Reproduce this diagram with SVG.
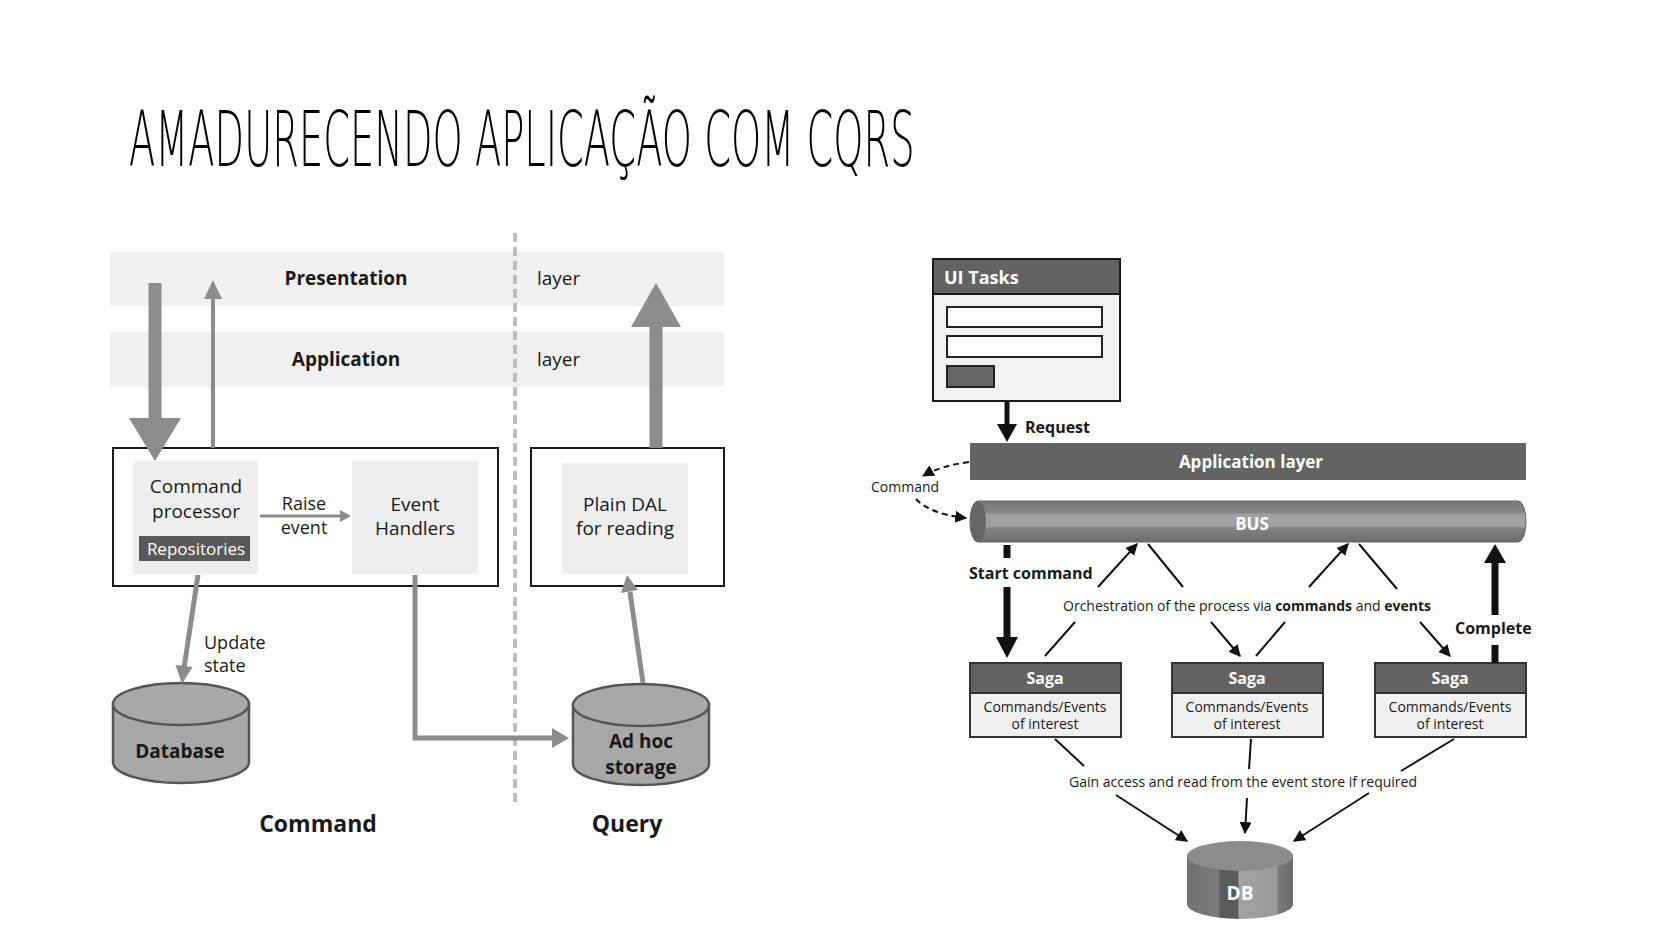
<svg xmlns="http://www.w3.org/2000/svg" width="1680" height="945" viewBox="0 0 1680 945">
<defs>
<style>
.t{font-family:"Open Sans","Noto Sans","Liberation Sans",sans-serif;fill:#1a1a1a}
.b{font-weight:bold}
.w{fill:#fff}
.band{fill:#f0f0f0}
.inner{fill:#eeeeee}
.frame{fill:none;stroke:#1a1a1a;stroke-width:2}
.garrow{fill:#8c8c8c}
.gline{stroke:#8c8c8c;fill:none}
.cyl{fill:#a8a8a8;stroke:#555;stroke-width:2.5}
.kline{stroke:#111;stroke-width:2;fill:none}
.dark{fill:#636363}
</style>
<marker id="ka" viewBox="0 0 10 10" refX="9" refY="5" markerWidth="12" markerHeight="12" markerUnits="userSpaceOnUse" orient="auto">
<path d="M0,0 L10,5 L0,10 Z" fill="#111"/>
</marker>
<linearGradient id="bus" x1="0" y1="0" x2="0" y2="1">
<stop offset="0" stop-color="#777"/>
<stop offset="0.3" stop-color="#8a8a8a"/>
<stop offset="0.32" stop-color="#a2a2a2"/>
<stop offset="0.62" stop-color="#a0a0a0"/>
<stop offset="0.65" stop-color="#858585"/>
<stop offset="1" stop-color="#6a6a6a"/>
</linearGradient>
<linearGradient id="dbg" x1="0" y1="0" x2="1" y2="0">
<stop offset="0" stop-color="#707070"/>
<stop offset="0.3" stop-color="#7c7c7c"/>
<stop offset="0.31" stop-color="#5a5a5a"/>
<stop offset="0.48" stop-color="#5a5a5a"/>
<stop offset="0.49" stop-color="#a3a3a3"/>
<stop offset="0.85" stop-color="#9a9a9a"/>
<stop offset="0.86" stop-color="#7a7a7a"/>
<stop offset="1" stop-color="#6a6a6a"/>
</linearGradient>
</defs>
<rect width="1680" height="945" fill="#fff"/>

<text id="title" transform="translate(129,166) scale(0.4985,1)" x="0" y="0" font-family="DejaVu Sans, sans-serif" font-weight="200" font-size="77" fill="#000">AMADURECENDO APLICAÇÃO COM CQRS</text>

<!-- LEFT DIAGRAM -->
<g id="bands">
<rect class="band" x="110" y="252" width="614" height="54"/>
<rect class="band" x="110" y="332" width="614" height="55"/>
<text class="t b" x="346" y="285" font-size="19" text-anchor="middle">Presentation</text>
<text class="t" x="537" y="285" font-size="19">layer</text>
<text class="t b" x="346" y="366" font-size="19" text-anchor="middle">Application</text>
<text class="t" x="537" y="366" font-size="19">layer</text>
</g>
<line id="divider" x1="515" y1="233" x2="515" y2="802" stroke="#bdbdbd" stroke-width="4" stroke-dasharray="9,5"/>

<g id="command-box">
<rect class="frame" x="113" y="448" width="385" height="138"/>
</g>
<g id="command-processor">
<rect class="inner" x="133" y="461" width="125" height="113"/>
<text class="t" x="196" y="493" font-size="19" text-anchor="middle">Command</text>
<text class="t" x="196" y="518" font-size="19" text-anchor="middle">processor</text>
<rect x="139" y="536" width="111" height="25" fill="#595959"/>
<text class="t w" x="196" y="555" font-size="17" text-anchor="middle">Repositories</text>
</g>
<g id="event-handlers">
<rect class="inner" x="352" y="461" width="126" height="113"/>
<text class="t" x="415" y="511" font-size="19" text-anchor="middle">Event</text>
<text class="t" x="415" y="535" font-size="19" text-anchor="middle">Handlers</text>
</g>
<g id="query-box">
<rect class="frame" x="531" y="448" width="193" height="138"/>
</g>
<g id="plain-dal">
<rect class="inner" x="562" y="463" width="126" height="111"/>
<text class="t" x="625" y="511" font-size="19" text-anchor="middle">Plain DAL</text>
<text class="t" x="625" y="535" font-size="19" text-anchor="middle">for reading</text>
</g>
<g id="database">
<path class="cyl" d="M113,704 L113,762 A68,21 0 0 0 249,762 L249,704 Z"/>
<ellipse class="cyl" cx="181" cy="704" rx="68" ry="21"/>
<text class="t b" x="180" y="758" font-size="19" text-anchor="middle" fill="#111">Database</text>
</g>
<g id="adhoc">
<path class="cyl" d="M573,705 L573,764 A68,21 0 0 0 709,764 L709,705 Z"/>
<ellipse class="cyl" cx="641" cy="705" rx="68" ry="21"/>
<text class="t b" x="641" y="748" font-size="19" text-anchor="middle" fill="#111">Ad hoc</text>
<text class="t b" x="641" y="774" font-size="19" text-anchor="middle" fill="#111">storage</text>
</g>
<text class="t b" x="318" y="832" font-size="23" text-anchor="middle" fill="#111">Command</text>
<text class="t b" x="627" y="832" font-size="23" text-anchor="middle" fill="#111">Query</text>

<g id="left-connectors">
<rect class="garrow" x="148.5" y="283" width="13" height="136"/>
<polygon class="garrow" points="129,418 181,418 155,461"/>
<line class="gline" x1="213" y1="448" x2="213" y2="296" stroke-width="4"/>
<polygon class="garrow" points="204,299 222,299 213,280"/>
<rect class="garrow" x="649.5" y="326" width="13" height="122"/>
<polygon class="garrow" points="631,327 681,327 656,283"/>
<line class="gline" x1="260" y1="516" x2="342" y2="516" stroke-width="3"/>
<polygon class="garrow" points="340,510 351,516 340,522"/>
<text class="t" x="304" y="510" font-size="18" text-anchor="middle">Raise</text>
<text class="t" x="304" y="534" font-size="18" text-anchor="middle">event</text>
<line class="gline" x1="198" y1="575" x2="184" y2="668" stroke-width="5"/>
<polygon class="garrow" points="192.5,667 175.5,665 182,684"/>
<text class="t" x="204" y="649" font-size="18">Update</text>
<text class="t" x="204" y="672" font-size="18">state</text>
<polyline class="gline" points="415,575 415,738 554,738" stroke-width="5"/>
<polygon class="garrow" points="552,728 569,738 552,748"/>
<line class="gline" x1="643" y1="683" x2="630" y2="592" stroke-width="5"/>
<polygon class="garrow" points="638,590 621,593 627,575"/>
</g>

<!-- RIGHT DIAGRAM -->
<g id="ui-tasks">
<rect x="933" y="259" width="187" height="142" fill="#f2f2f2" stroke="#1a1a1a" stroke-width="2"/>
<rect class="dark" x="933" y="259" width="187" height="35" stroke="#1a1a1a" stroke-width="2"/>
<text class="t b w" x="944" y="284" font-size="18">UI Tasks</text>
<rect x="947" y="307" width="155" height="20" fill="#fff" stroke="#222" stroke-width="2"/>
<rect x="947" y="336" width="155" height="21" fill="#fff" stroke="#222" stroke-width="2"/>
<rect x="947" y="366" width="47" height="21" fill="#666" stroke="#222" stroke-width="2"/>
</g>
<g id="app-layer">
<rect class="dark" x="970" y="443" width="556" height="37"/>
<text class="t b w" x="1251" y="468" font-size="17" text-anchor="middle">Application layer</text>
</g>
<g id="bus">
<rect x="970" y="501" width="556" height="41" rx="8" ry="20" fill="url(#bus)" stroke="#666" stroke-width="1"/>
<ellipse cx="978" cy="521.5" rx="8" ry="20" fill="#666"/>
<text class="t b w" x="1252" y="530" font-size="17" text-anchor="middle">BUS</text>
</g>
<g id="saga1">
<rect x="970" y="663" width="151" height="74" fill="#f0f0f0" stroke="#333" stroke-width="2"/>
<rect class="dark" x="970" y="663" width="151" height="30" stroke="#333" stroke-width="2"/>
<text class="t b w" x="1045" y="684" font-size="16" text-anchor="middle">Saga</text>
<text class="t" x="1045" y="712" font-size="14" text-anchor="middle">Commands/Events</text>
<text class="t" x="1045" y="729" font-size="14" text-anchor="middle">of interest</text>
</g>
<g id="saga2">
<rect x="1172" y="663" width="151" height="74" fill="#f0f0f0" stroke="#333" stroke-width="2"/>
<rect class="dark" x="1172" y="663" width="151" height="30" stroke="#333" stroke-width="2"/>
<text class="t b w" x="1247" y="684" font-size="16" text-anchor="middle">Saga</text>
<text class="t" x="1247" y="712" font-size="14" text-anchor="middle">Commands/Events</text>
<text class="t" x="1247" y="729" font-size="14" text-anchor="middle">of interest</text>
</g>
<g id="saga3">
<rect x="1375" y="663" width="151" height="74" fill="#f0f0f0" stroke="#333" stroke-width="2"/>
<rect class="dark" x="1375" y="663" width="151" height="30" stroke="#333" stroke-width="2"/>
<text class="t b w" x="1450" y="684" font-size="16" text-anchor="middle">Saga</text>
<text class="t" x="1450" y="712" font-size="14" text-anchor="middle">Commands/Events</text>
<text class="t" x="1450" y="729" font-size="14" text-anchor="middle">of interest</text>
</g>
<g id="db">
<path d="M1187,856 L1187,904 A53,15 0 0 0 1293,904 L1293,856 Z" fill="url(#dbg)"/>
<ellipse cx="1240" cy="856" rx="53" ry="15" fill="#8c8c8c"/>
<text class="t b w" x="1240" y="900" font-size="19" text-anchor="middle">DB</text>
</g>

<g id="right-connectors">
<rect x="1004.5" y="401" width="5" height="24" fill="#111"/>
<polygon points="997,424 1017,424 1007,442" fill="#111"/>
<text class="t b" x="1025" y="433" font-size="16">Request</text>
<path d="M969,462 Q940,466 923,476" class="kline" stroke-dasharray="6,4" marker-end="url(#ka)"/>
<text class="t" x="871" y="492" font-size="14">Command</text>
<path d="M916,499 Q930,514 966,518" class="kline" stroke-dasharray="6,4" marker-end="url(#ka)"/>
<rect x="1003.5" y="545" width="7" height="13" fill="#111"/>
<text class="t b" x="969" y="579" font-size="16">Start command</text>
<rect x="1003.5" y="587" width="7" height="52" fill="#111"/>
<polygon points="996,637 1018,637 1007,658" fill="#111"/>
<rect x="1491.5" y="645" width="7" height="18" fill="#111"/>
<text class="t b" x="1455" y="634" font-size="16">Complete</text>
<rect x="1491.5" y="561" width="7" height="54" fill="#111"/>
<polygon points="1484,563 1506,563 1495,544" fill="#111"/>
<text class="t" x="1247" y="611" font-size="14" text-anchor="middle">Orchestration of the process via <tspan class="b">commands</tspan> and <tspan class="b">events</tspan></text>
<line class="kline" x1="1045" y1="656" x2="1075" y2="622"/>
<line class="kline" x1="1098" y1="587" x2="1137" y2="544" marker-end="url(#ka)"/>
<line class="kline" x1="1148" y1="544" x2="1183" y2="587"/>
<line class="kline" x1="1211" y1="622" x2="1240" y2="656" marker-end="url(#ka)"/>
<line class="kline" x1="1256" y1="656" x2="1285" y2="622"/>
<line class="kline" x1="1309" y1="587" x2="1348" y2="544" marker-end="url(#ka)"/>
<line class="kline" x1="1359" y1="544" x2="1397" y2="589"/>
<line class="kline" x1="1420" y1="622" x2="1450" y2="656" marker-end="url(#ka)"/>
<text class="t" x="1243" y="787" font-size="14" text-anchor="middle">Gain access and read from the event store if required</text>
<line class="kline" x1="1055" y1="739" x2="1084" y2="766"/>
<line class="kline" x1="1251" y1="739" x2="1249" y2="769"/>
<line class="kline" x1="1454" y1="739" x2="1401" y2="771"/>
<line class="kline" x1="1116" y1="795" x2="1187" y2="841" marker-end="url(#ka)"/>
<line class="kline" x1="1247" y1="798" x2="1245" y2="833" marker-end="url(#ka)"/>
<line class="kline" x1="1369" y1="793" x2="1294" y2="841" marker-end="url(#ka)"/>
</g>
</svg>
